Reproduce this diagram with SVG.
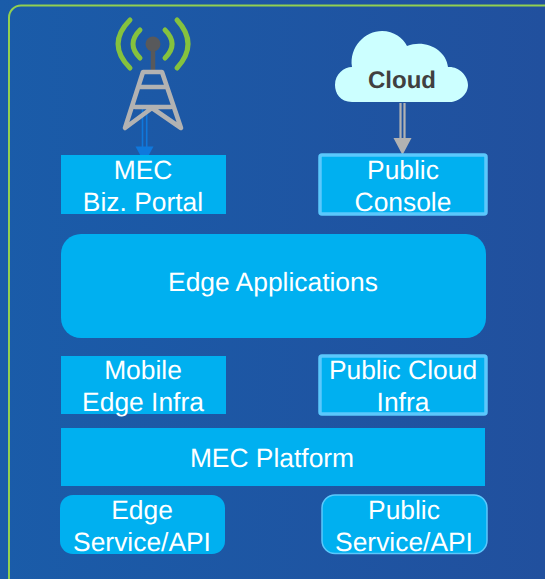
<svg xmlns="http://www.w3.org/2000/svg" width="545" height="579" viewBox="0 0 545 579">
<defs>
<linearGradient id="bg" x1="0" y1="0" x2="1" y2="0"><stop offset="0" stop-color="#1a5ca9"/><stop offset="1" stop-color="#21509e"/></linearGradient>
</defs>
<style>
.n{fill:#00b0f0}
.o{fill:#00b0f0;stroke:#5bc8fc;stroke-width:3.5}
text{font-family:"Liberation Sans",Arial,sans-serif;font-size:26.4px;fill:#fff;text-anchor:middle;text-rendering:geometricPrecision}
.w{fill:none;stroke:#85c23e;stroke-width:5;stroke-linecap:round}
.t{fill:none;stroke:#b2b2b2;stroke-width:4.6;stroke-linejoin:round;stroke-linecap:round}
</style>
<rect width="545" height="579" fill="url(#bg)"/>
<rect x="9" y="5.500" width="560" height="590" rx="12" fill="none" stroke="#92d050" stroke-width="2"/>
<g id="connectors">
<path d="M142.500 108V158M146.700 108V158" fill="none" stroke="#0f78dc" stroke-width="1.600"/>
<path d="M135.500 146.500L153.500 146.500L144.500 163Z" fill="#0f78dc"/>
<path d="M400.500 103V145M404.500 103V145" fill="none" stroke="#b2b2b2" stroke-width="2.200"/>
<path d="M393.500 138L411.500 138L402.500 155Z" fill="#b2b2b2"/>
</g>
<g id="tower">
<path class="w" d="M130 20Q106 44 130 68M140 30Q126 44 140 58M177 20Q199 44 177 68M165 30Q179 44 165 58"/>
<path d="M153 50V72" stroke="#58595b" stroke-width="4.500" fill="none"/>
<circle cx="153" cy="44" r="7.500" fill="#58595b"/>
<path class="t" d="M143 72H162L181 128L152 108L125 128ZM140 87H166M135 107H171"/>
</g>
<g id="cloud">
<path d="M352 102C340 102 335 93 335 85C335 74 344 67 352 67C349 47 365 31 382 31C394 31 403 38 407 46C426 39 446 50 448 67C458 66 468 75 468 85C468 95 458 102 450 102Z" fill="#ccffff"/>
<text x="402" y="88" style="font-weight:bold;fill:#404040;font-size:24px">Cloud</text>
</g>
<g id="biz-portal"><rect class="n" x="61" y="155" width="165" height="59"/><text x="143" y="179">MEC</text><text x="143" y="211">Biz. Portal</text></g>
<g id="public-console"><rect class="o" x="320" y="155" width="166" height="59" rx="2"/><text x="403" y="179">Public</text><text x="403" y="211">Console</text></g>
<g id="edge-applications"><rect class="n" x="61" y="234" width="425" height="104" rx="20"/><text x="273" y="291">Edge Applications</text></g>
<g id="mobile-edge-infra"><rect class="n" x="61" y="356" width="165" height="58"/><text x="143" y="379">Mobile</text><text x="143" y="411">Edge Infra</text></g>
<g id="public-cloud-infra"><rect class="o" x="320" y="356" width="166" height="58" rx="2"/><text x="403" y="379">Public Cloud</text><text x="403" y="411">Infra</text></g>
<g id="mec-platform"><rect class="n" x="61" y="428" width="424" height="58"/><text x="272" y="467">MEC Platform</text></g>
<g id="edge-service"><rect class="n" x="60" y="495" width="165" height="59" rx="13"/><text x="142" y="519">Edge</text><text x="142" y="551">Service/API</text></g>
<g id="public-service"><rect x="322" y="495" width="165" height="58.500" rx="13" fill="#00b0f0" stroke="#5bc8fc" stroke-width="1.500"/><text x="404" y="519">Public</text><text x="404" y="551">Service/API</text></g>
</svg>
